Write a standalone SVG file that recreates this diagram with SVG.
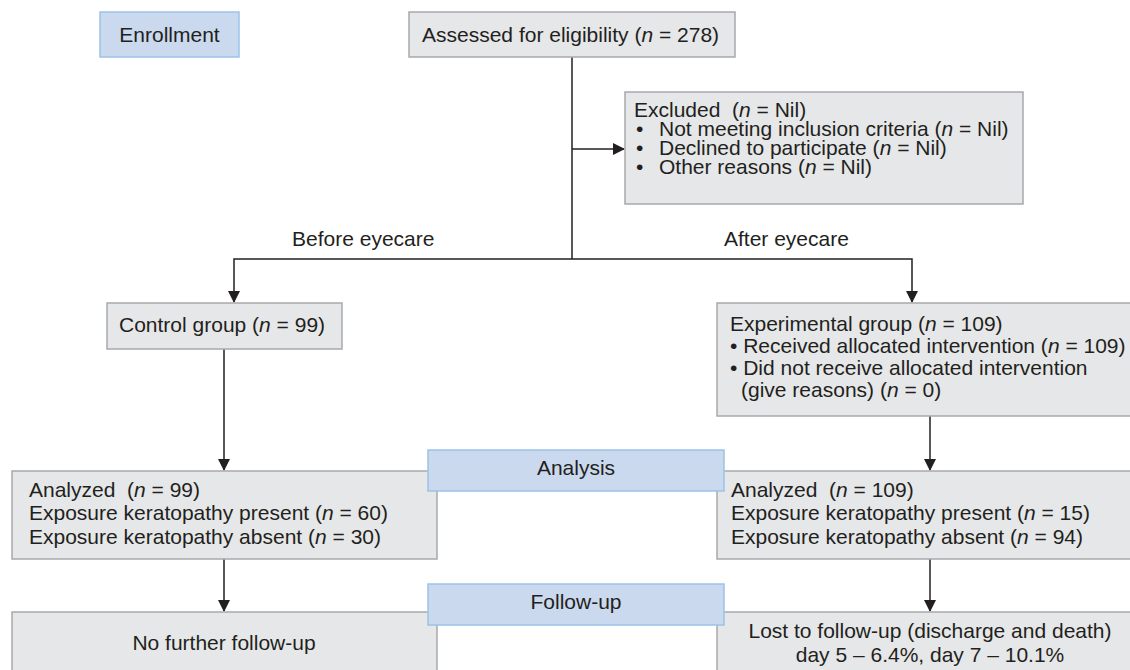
<svg xmlns="http://www.w3.org/2000/svg" width="1130" height="670" viewBox="0 0 1130 670">
<style>
.box{fill:#e6e7e8;stroke:#a7a9ac;stroke-width:1.5}
.blue{fill:#cad9ee;stroke:#9cc2e8;stroke-width:1.5}
text{font-family:"Liberation Sans",Arial,sans-serif;font-size:21px;fill:#231f20}
.c{text-anchor:middle}
.i{font-style:italic}
.ln{fill:none;stroke:#231f20;stroke-width:1.5}
</style>
<defs>
<marker id="ah" markerWidth="12" markerHeight="12" refX="11" refY="6" orient="auto" markerUnits="userSpaceOnUse">
<path d="M0,0 L12,6 L0,12 Z" fill="#231f20"/>
</marker>
</defs>
<rect width="1130" height="670" fill="#ffffff"/>
<g id="connectors">
<line class="ln" x1="572" y1="57" x2="572" y2="259"/>
<line class="ln" x1="572" y1="149" x2="624" y2="149" marker-end="url(#ah)"/>
<polyline class="ln" points="572,259 234,259 234,302" marker-end="url(#ah)"/>
<polyline class="ln" points="572,259 912,259 912,302" marker-end="url(#ah)"/>
<line class="ln" x1="224" y1="349" x2="224" y2="470" marker-end="url(#ah)"/>
<line class="ln" x1="930" y1="416" x2="930" y2="470" marker-end="url(#ah)"/>
<line class="ln" x1="224" y1="559" x2="224" y2="611" marker-end="url(#ah)"/>
<line class="ln" x1="930" y1="559" x2="930" y2="611" marker-end="url(#ah)"/>
<text x="292" y="246">Before eyecare</text>
<text x="724" y="246">After eyecare</text>
</g>
<g id="enrollment">
<rect class="blue" x="100" y="12" width="139" height="45"/>
<text class="c" x="169.5" y="42">Enrollment</text>
</g>
<g id="assessed">
<rect class="box" x="409" y="12" width="326" height="45"/>
<text x="422" y="42">Assessed for eligibility (<tspan class="i">n</tspan> = 278)</text>
</g>
<g id="excluded">
<rect class="box" x="625" y="92" width="398" height="112"/>
<text x="634" y="117">Excluded&#160; (<tspan class="i">n</tspan> = Nil)</text>
<text x="636" y="136">•<tspan x="659">Not meeting inclusion criteria (</tspan><tspan class="i">n</tspan> = Nil)</text>
<text x="636" y="155">•<tspan x="659">Declined to participate (</tspan><tspan class="i">n</tspan> = Nil)</text>
<text x="636" y="174">•<tspan x="659">Other reasons (</tspan><tspan class="i">n</tspan> = Nil)</text>
</g>
<g id="control">
<rect class="box" x="107" y="303" width="235" height="46"/>
<text x="119" y="332">Control group (<tspan class="i">n</tspan> = 99)</text>
</g>
<g id="experimental">
<rect class="box" x="717" y="303" width="425" height="113"/>
<text x="730" y="331">Experimental group (<tspan class="i">n</tspan> = 109)</text>
<text x="730" y="353">• Received allocated intervention (<tspan class="i">n</tspan> = 109)</text>
<text x="730" y="375">• Did not receive allocated intervention</text>
<text x="741" y="397">(give reasons) (<tspan class="i">n</tspan> = 0)</text>
</g>
<g id="analyzed-control">
<rect class="box" x="12" y="471" width="425" height="88"/>
<text x="29" y="497">Analyzed&#160; (<tspan class="i">n</tspan> = 99)</text>
<text x="29" y="520">Exposure keratopathy present (<tspan class="i">n</tspan> = 60)</text>
<text x="29" y="544">Exposure keratopathy absent (<tspan class="i">n</tspan> = 30)</text>
</g>
<g id="analyzed-experimental">
<rect class="box" x="717" y="471" width="425" height="88"/>
<text x="731" y="497">Analyzed&#160; (<tspan class="i">n</tspan> = 109)</text>
<text x="731" y="520">Exposure keratopathy present (<tspan class="i">n</tspan> = 15)</text>
<text x="731" y="544">Exposure keratopathy absent (<tspan class="i">n</tspan> = 94)</text>
</g>
<g id="analysis">
<rect class="blue" x="428" y="450" width="296" height="41"/>
<text class="c" x="576" y="475">Analysis</text>
</g>
<g id="followup-control">
<rect class="box" x="12" y="612" width="425" height="70"/>
<text class="c" x="224" y="650">No further follow-up</text>
</g>
<g id="followup-experimental">
<rect class="box" x="717" y="612" width="425" height="70"/>
<text class="c" x="930" y="638">Lost to follow-up (discharge and death)</text>
<text class="c" x="930" y="662">day 5 – 6.4%, day 7 – 10.1%</text>
</g>
<g id="followup">
<rect class="blue" x="428" y="584" width="296" height="41"/>
<text class="c" x="576" y="609">Follow-up</text>
</g>
</svg>
